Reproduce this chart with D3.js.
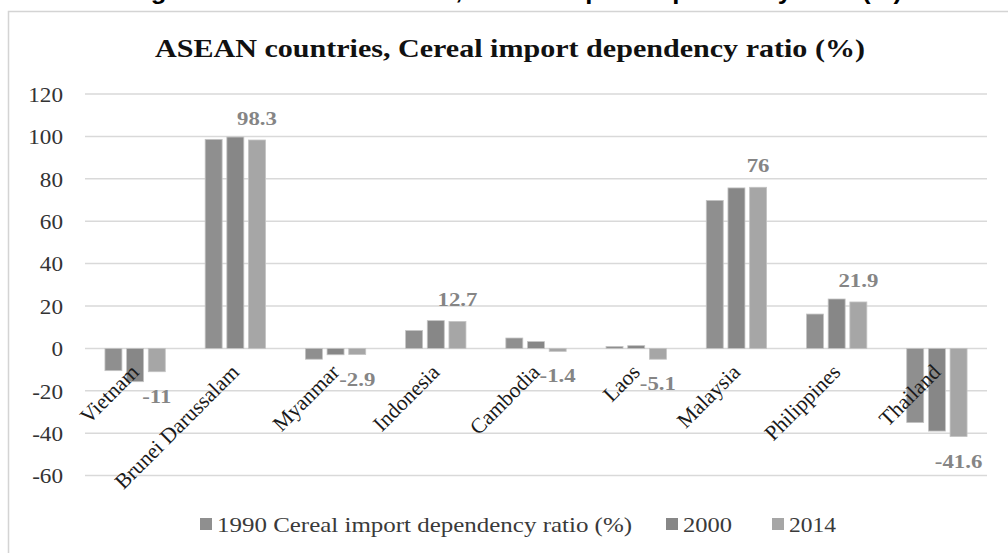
<!DOCTYPE html>
<html>
<head>
<meta charset="utf-8">
<script src="https://cdn.jsdelivr.net/npm/d3@7"></script>
<style>
  html, body { margin: 0; padding: 0; background: #fff; overflow: hidden; }
  svg { display: block; }
</style>
</head>
<body>
<svg id="chart" width="1008" height="553"></svg>
<script>
// ---- data ----
const categories = ["Vietnam", "Brunei Darussalam", "Myanmar", "Indonesia", "Cambodia", "Laos", "Malaysia", "Philippines", "Thailand"];
const seriesNames = ["1990 Cereal import dependency ratio (%)", "2000", "2014"];
const values1990 = [-10.5, 98.6, -5.1, 8.4, 4.9, 0.9, 69.8, 16.2, -35.0];
const values2000 = [-15.7, 99.7, -3.0, 13.1, 3.2, 1.3, 75.7, 23.3, -39.0];
const values2014 = [-11, 98.3, -2.9, 12.7, -1.4, -5.1, 76, 21.9, -41.6];
const labelled2014 = ["-11", "98.3", "-2.9", "12.7", "-1.4", "-5.1", "76", "21.9", "-41.6"];
const yTicks = [-60, -40, -20, 0, 20, 40, 60, 80, 100, 120];
const chartTitle = "ASEAN countries, Cereal import dependency ratio (%)";
const pageHeading = "Figure 1: ASEAN countries, Cereal import dependency ratio (%)";

const seriesValues = [values1990, values2000, values2014];
const seriesColors = ["#8f8f8f", "#878787", "#a6a6a6"];

const svg = d3.select("#chart");

function stretch(sel, f) {
  sel.each(function () {
    const L = this.getComputedTextLength();
    this.setAttribute("textLength", L * f);
    this.setAttribute("lengthAdjust", "spacingAndGlyphs");
  });
}
function fitWidth(sel, w) {
  sel.attr("textLength", w).attr("lengthAdjust", "spacingAndGlyphs");
}

// cropped heading text above the chart frame (cut off in the source too)
svg.append("text")
  .attr("x", 128).attr("y", -1)
  .attr("font-family", "Liberation Sans, Arial, sans-serif")
  .attr("font-weight", "bold").attr("font-size", 24)
  .attr("fill", "#000")
  .text(pageHeading)
  .call(fitWidth, 774);

// chart frame
svg.append("rect")
  .attr("x", 8.5).attr("y", 11.5).attr("width", 1010).attr("height", 560)
  .attr("fill", "#fff").attr("stroke", "#d4d4d4").attr("stroke-width", 1.5);

// title
svg.append("text")
  .attr("x", 155).attr("y", 57)
  .attr("font-family", "Liberation Serif, Times New Roman, serif")
  .attr("font-weight", "bold").attr("font-size", 26)
  .attr("fill", "#111")
  .text(chartTitle)
  .call(fitWidth, 710);

// scales
const plotLeft = 85, plotRight = 987;
const y = d3.scaleLinear().domain([-60, 120]).range([475.6, 94]);
const x0 = d3.scaleBand().domain(categories).range([plotLeft, plotRight]).padding(0);
const bw = x0.bandwidth();
const x1 = d3.scaleBand().domain(d3.range(3)).range([bw * 0.199, bw * 0.801]).paddingInner(0.217).paddingOuter(0);

// gridlines
svg.append("g").selectAll("line").data(yTicks).join("line")
  .attr("x1", plotLeft).attr("x2", plotRight)
  .attr("y1", d => y(d)).attr("y2", d => y(d))
  .attr("stroke", "#d9d9d9").attr("stroke-width", 1.5);

// y axis labels
const yAxis = d3.axisLeft(y).tickValues(yTicks).tickSize(0).tickPadding(0).tickFormat(d3.format("d"));
const yg = svg.append("g").attr("transform", "translate(63,0)").call(yAxis);
yg.select(".domain").remove();
yg.selectAll("text")
  .attr("font-family", "Liberation Serif, Times New Roman, serif")
  .attr("font-size", 20.5).attr("fill", "#333")
  .attr("dy", "0.36em")
  .text(d => String(d))
  .call(stretch, 1.13);

// bars
const groups = svg.append("g").selectAll("g").data(categories).join("g")
  .attr("transform", c => `translate(${x0(c)},0)`);
groups.selectAll("rect")
  .data((c, i) => seriesValues.map((arr, s) => ({ s, v: arr[i] })))
  .join("rect")
  .attr("x", d => x1(d.s))
  .attr("width", x1.bandwidth())
  .attr("y", d => y(Math.max(0, d.v)))
  .attr("height", d => Math.abs(y(d.v) - y(0)))
  .attr("fill", d => seriesColors[d.s])
  .attr("stroke", "#c4c4c4").attr("stroke-width", 0.8);

// data labels (2014 series)
svg.append("g").selectAll("text").data(categories).join("text")
  .attr("x", (c, i) => x0(c) + x1(2) + x1.bandwidth() / 2)
  .attr("y", (c, i) => values2014[i] >= 0 ? y(values2014[i]) - 15 : y(values2014[i]) + 31)
  .attr("text-anchor", "middle")
  .attr("font-family", "Liberation Serif, Times New Roman, serif")
  .attr("font-weight", "bold").attr("font-size", 19)
  .attr("fill", "#858585")
  .text((c, i) => labelled2014[i])
  .call(stretch, 1.2);

// category labels rotated
svg.append("g").selectAll("text").data(categories).join("text")
  .attr("transform", c => `translate(${x0(c) + bw / 2 + 5},${y(0) + 25}) rotate(-45)`)
  .attr("text-anchor", "end")
  .attr("font-family", "Liberation Serif, Times New Roman, serif")
  .attr("font-size", 21.5).attr("fill", "#1a1a1a")
  .text(c => c);

// legend
const legendX = [200, 666, 772];
const legendTextW = [415, 49, 47];
const lg = svg.append("g").selectAll("g").data(seriesNames).join("g")
  .attr("transform", (d, i) => `translate(${legendX[i]},0)`);
lg.append("rect").attr("x", 0).attr("y", 518).attr("width", 12).attr("height", 12)
  .attr("fill", (d, i) => seriesColors[i]);
lg.append("text").attr("x", 17).attr("y", 531.5)
  .attr("font-family", "Liberation Serif, Times New Roman, serif")
  .attr("font-size", 21).attr("fill", "#3a3a3a")
  .text(d => d)
  .each(function (d, i) { d3.select(this).call(fitWidth, legendTextW[i]); });
</script>
</body>
</html>
